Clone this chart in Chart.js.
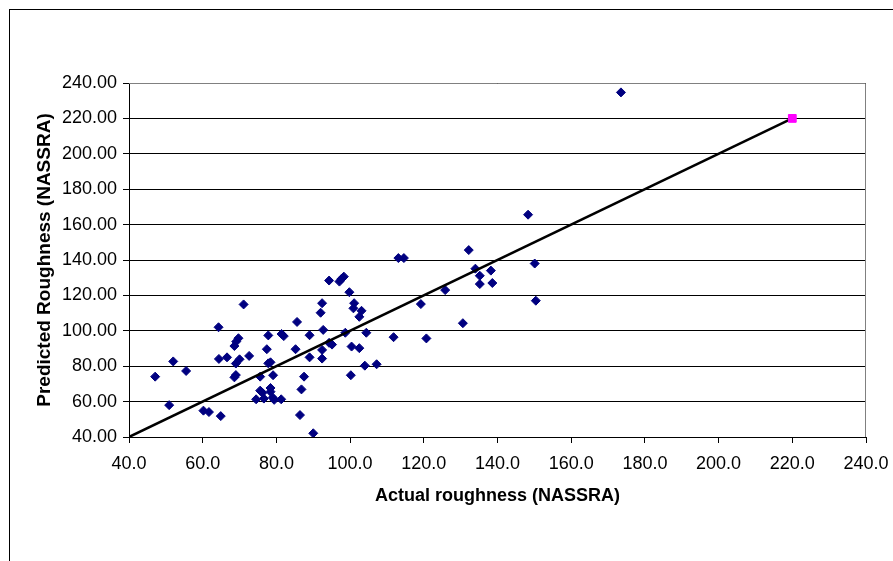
<!DOCTYPE html>
<html>
<head>
<meta charset="utf-8">
<script src="https://cdn.jsdelivr.net/npm/chart.js@4"></script>
<style>
  html, body { margin: 0; padding: 0; background: #fff; overflow: hidden; }
  #wrap { position: relative; width: 893px; height: 561px; }
  #frame { position: absolute; left: 9px; top: 9px; width: 900px; height: 600px; border: 1px solid #000; box-sizing: border-box; }
  canvas { position: absolute; left: 0; top: 0; }
</style>
</head>
<body>
<div id="wrap">
  <div id="frame"></div>
  <canvas id="chart" width="893" height="561"></canvas>
</div>
<script>
// measured vs predicted roughness (NASSRA)
const actual = [47.1, 50.9, 52.0, 55.5, 60.2, 61.7, 64.9, 64.3, 64.4, 66.6,
    71.1, 69.7, 69.1, 68.6, 70.0, 69.0, 69.0, 68.6, 72.6, 77.4,
    77.8, 81.4, 82.0, 77.8, 78.4, 75.6, 79.1, 75.6, 76.2, 78.4,
    78.4, 74.5, 76.6, 79.0, 79.4, 81.3, 85.6, 85.2, 89.0, 89.0,
    87.5, 86.8, 86.4, 90.0, 94.3, 97.1, 97.6, 98.3, 99.8, 92.4,
    92.0, 101.1, 100.9, 103.1, 102.5, 92.7, 98.7, 104.4, 94.3, 95.1,
    92.4, 92.4, 100.4, 102.5, 100.2, 104.0, 107.2, 111.8, 113.1, 114.6,
    119.2, 120.7, 125.8, 130.6, 132.2, 134.0, 135.2, 135.2, 138.2, 138.6,
    148.3, 150.1, 150.4, 173.5]
const predicted = [74.1, 58.0, 82.7, 77.3, 54.9, 54.1, 51.8, 102.0, 84.1, 85.0,
    114.9, 95.8, 93.9, 91.4, 83.9, 81.5, 75.0, 73.7, 85.8, 89.6,
    97.4, 98.2, 97.0, 81.6, 82.2, 74.1, 74.9, 66.2, 65.0, 67.7,
    65.6, 61.3, 61.7, 62.3, 61.0, 61.3, 105.0, 89.6, 97.5, 85.0,
    74.1, 66.9, 52.4, 42.1, 128.4, 127.8, 129.2, 130.6, 121.8, 115.6,
    110.2, 115.6, 112.7, 111.3, 107.9, 100.5, 98.9, 98.9, 93.2, 92.2,
    89.2, 84.3, 91.1, 90.2, 74.9, 80.3, 81.1, 96.4, 141.1, 141.1,
    115.1, 95.7, 123.0, 104.3, 145.6, 135.1, 131.1, 126.4, 134.0, 127.0,
    165.6, 138.0, 117.0, 234.7]

// 1:1 line and its end marker
const lineX = [40, 220]
const lineY = [40, 220]
const markX = [220]
const markY = [220]

const xTicks = [40, 60, 80, 100, 120, 140, 160, 180, 200, 220, 240]
const yTicks = [40, 60, 80, 100, 120, 140, 160, 180, 200, 220, 240]

function pts(xs, ys) {
    return xs.map((x, i) => ({x: x, y: ys[i]}))
}

const plotBorder = {
    id: 'plotBorder',
    beforeDatasetsDraw(chart) {
        const a = chart.chartArea
        const ctx = chart.ctx
        ctx.save()
        ctx.strokeStyle = '#808080'
        ctx.lineWidth = 1
        ctx.beginPath()
        ctx.moveTo(a.left, a.top + 0.5)
        ctx.lineTo(a.right - 0.5, a.top + 0.5)
        ctx.lineTo(a.right - 0.5, a.bottom)
        ctx.stroke()
        ctx.restore()
    }
}

const FONT = '"Liberation Sans", Arial, sans-serif'

const ctx = document.getElementById('chart')
new Chart(ctx, {
    type: 'scatter',
    data: {
        datasets: [
            {
                label: 'mark',
                data: pts(markX, markY),
                pointStyle: 'rect',
                pointRadius: 5.5,
                backgroundColor: '#ff00ff',
                borderColor: '#ff00ff',
                borderWidth: 1
            },
            {
                label: 'line',
                data: pts(lineX, lineY),
                showLine: true,
                borderColor: '#000',
                borderWidth: 2.5,
                pointRadius: 0
            },
            {
                label: 'data',
                data: pts(actual, predicted),
                pointStyle: 'rectRot',
                pointRadius: 4.5,
                backgroundColor: '#000080',
                borderColor: '#000080',
                borderWidth: 1
            }
        ]
    },
    options: {
        responsive: false,
        animation: false,
        events: [],
        layout: { padding: { left: 0, top: 83, right: 27, bottom: 0 } },
        plugins: { legend: { display: false }, tooltip: { enabled: false } },
        scales: {
            x: {
                type: 'linear',
                min: 40, max: 240,
                afterFit: s => {
                    s.height = 124
                    s.paddingLeft = 0
                    s.paddingRight = 0
                },
                afterBuildTicks: s => { s.ticks = xTicks.map(v => ({value: v})) },
                border: { display: true, color: '#000', width: 1 },
                grid: { drawOnChartArea: false, drawTicks: true, tickLength: 6, color: '#000' },
                ticks: {
                    color: '#000',
                    padding: 10,
                    maxRotation: 0,
                    autoSkip: false,
                    font: { family: FONT, size: 18 },
                    callback: v => v.toFixed(1)
                },
                title: {
                    display: true,
                    text: 'Actual roughness (NASSRA)',
                    color: '#000',
                    font: { family: FONT, size: 18, weight: 'bold' },
                    padding: { top: 4, bottom: 54 }
                }
            },
            y: {
                type: 'linear',
                min: 40, max: 240,
                afterFit: s => {
                    s.width = 129
                    s.paddingTop = 0
                    s.paddingBottom = 0
                },
                afterBuildTicks: s => { s.ticks = yTicks.map(v => ({value: v})) },
                border: { display: true, color: '#000', width: 1 },
                grid: { drawOnChartArea: true, drawTicks: true, tickLength: 6, color: '#000' },
                ticks: {
                    color: '#000',
                    padding: 6,
                    autoSkip: false,
                    font: { family: FONT, size: 18 },
                    callback: v => v.toFixed(2)
                },
                title: {
                    display: true,
                    text: 'Predicted Roughness (NASSRA)',
                    color: '#000',
                    font: { family: FONT, size: 19, weight: 'bold' },
                    padding: { top: 33, bottom: 4 }
                }
            }
        }
    },
    plugins: [plotBorder]
})
</script>
</body>
</html>
